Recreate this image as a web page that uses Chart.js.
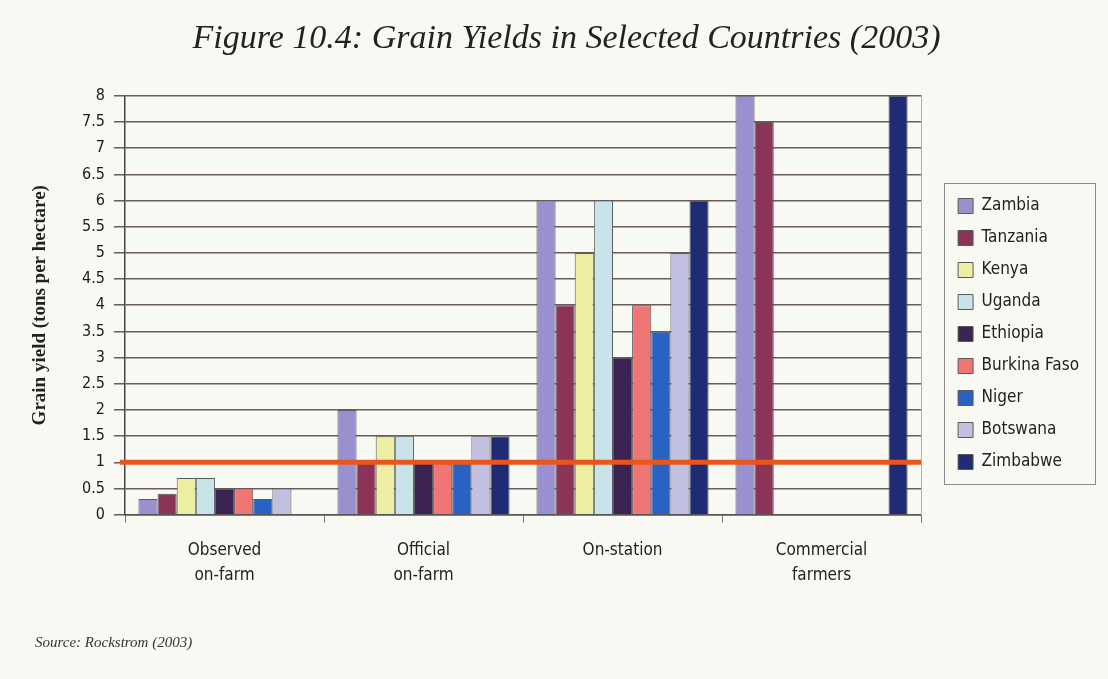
<!DOCTYPE html>
<html>
<head>
<meta charset="utf-8">
<script src="https://cdn.jsdelivr.net/npm/chart.js@4.4.1/dist/chart.umd.min.js"></script>
<style>
    html, body { margin: 0; padding: 0; background: #f9f9f3; }
    #wrap { position: relative; width: 1108px; height: 679px; }
    #source {
        position: absolute; left: 35px; top: 634px;
        font: italic 15px 'Liberation Serif', serif; color: #333;
    }
</style>
</head>
<body>
<div id="wrap">
    <canvas id="grain-chart" width="1108" height="679"></canvas>
    <div id="source">Source: Rockstrom (2003)</div>
</div>
<script>
// data (tons per hectare)
const categories = [['Observed', 'on-farm'], ['Official', 'on-farm'], 'On-station', ['Commercial', 'farmers']];
const countries = ['Zambia', 'Tanzania', 'Kenya', 'Uganda', 'Ethiopia', 'Burkina Faso', 'Niger', 'Botswana', 'Zimbabwe'];

const zambia      = [0.3, 2,   6,   8];
const tanzania    = [0.4, 1,   4,   7.5];
const kenya       = [0.7, 1.5, 5,   null];
const uganda      = [0.7, 1.5, 6,   null];
const ethiopia    = [0.5, 1,   3,   null];
const burkinaFaso = [0.5, 1,   4,   null];
const niger       = [0.3, 1,   3.5, null];
const botswana    = [0.5, 1.5, 5,   null];
const zimbabwe    = [null, 1.5, 6,  8];

const yTicks = [0, 0.5, 1, 1.5, 2, 2.5, 3, 3.5, 4, 4.5, 5, 5.5, 6, 6.5, 7, 7.5, 8];
const THRESHOLD = 1;

const seriesValues = [zambia, tanzania, kenya, uganda, ethiopia, burkinaFaso, niger, botswana, zimbabwe];
const barColors = ['#9a90d0', '#8c3358', '#eeeea2', '#c9e3ea', '#3b2452', '#f07676', '#2a62c4', '#c2c0e0', '#1f2b72'];

const sansFont = "'DejaVu Sans Condensed', 'Liberation Sans Narrow', 'Liberation Sans', sans-serif";

// orange threshold line + legend frame
const decorations = {
    id: 'decorations',
    afterDatasetsDraw(chart) {
        const { ctx, chartArea, scales } = chart;
        const y = scales.y.getPixelForValue(THRESHOLD);
        ctx.save();
        ctx.strokeStyle = '#e8561c';
        ctx.lineWidth = 5;
        ctx.beginPath();
        ctx.moveTo(chartArea.left - 5, y);
        ctx.lineTo(chartArea.right, y);
        ctx.stroke();
        ctx.restore();
    },
    afterDraw(chart) {
        const boxes = chart.legend.legendHitBoxes;
        if (!boxes || !boxes.length) return;
        const left = Math.min(...boxes.map(b => b.left));
        const right = Math.max(...boxes.map(b => b.left + b.width));
        const top = boxes[0].top;
        const bottom = boxes[boxes.length - 1].top + boxes[boxes.length - 1].height;
        const ctx = chart.ctx;
        ctx.save();
        ctx.strokeStyle = '#8a8a8a';
        ctx.lineWidth = 1;
        ctx.strokeRect(Math.round(left - 14) + 0.5, Math.round(top - 15) + 0.5,
            Math.round(right - left + 30), Math.round(bottom - top + 28));
        ctx.restore();
    }
};

const ctx = document.getElementById('grain-chart').getContext('2d');
new Chart(ctx, {
    type: 'bar',
    data: {
        labels: categories,
        datasets: countries.map((name, i) => ({
            label: name,
            data: seriesValues[i],
            backgroundColor: barColors[i],
            borderColor: '#5a5a5a',
            borderWidth: 1,
            categoryPercentage: 0.865,
            barPercentage: 1.0
        }))
    },
    options: {
        responsive: false,
        animation: false,
        layout: { padding: { left: 44, right: 19, top: 0, bottom: 75 } },
        plugins: {
            title: {
                display: true,
                text: 'Figure 10.4: Grain Yields in Selected Countries (2003)',
                color: '#222',
                font: { family: "'Liberation Serif', serif", style: 'italic', weight: 'normal', size: 34 },
                padding: { top: 19, bottom: 36 }
            },
            legend: {
                position: 'right',
                align: 'center',
                title: { display: true, text: ' ', font: { size: 15 }, padding: 23 },
                labels: {
                    boxWidth: 15,
                    boxHeight: 15,
                    padding: 15,
                    color: '#222',
                    font: { family: sansFont, size: 17 }
                }
            },
            tooltip: { enabled: false }
        },
        scales: {
            x: {
                grid: { offset: true, drawOnChartArea: false, tickLength: 8, color: '#777' },
                border: { color: '#555', width: 1.5 },
                ticks: {
                    color: '#222',
                    padding: 16,
                    maxRotation: 0,
                    autoSkip: false,
                    font: { family: sansFont, size: 17, lineHeight: 1.45 }
                }
            },
            y: {
                min: 0,
                max: 8,
                afterBuildTicks: scale => { scale.ticks = yTicks.map(v => ({ value: v })); },
                afterFit: scale => { scale.width = 81; },
                grid: { color: '#6b5b5b', lineWidth: 1.5, tickLength: 11 },
                border: { color: '#444', width: 1.5 },
                ticks: {
                    color: '#1a1a1a',
                    padding: 9,
                    font: { family: sansFont, size: 16 },
                    callback: v => String(v)
                },
                title: {
                    display: true,
                    text: 'Grain yield (tons per hectare)',
                    color: '#222',
                    font: { family: "'Liberation Serif', serif", weight: 'bold', size: 19 },
                    padding: { top: -15, bottom: 10 }
                }
            },
            yr: {
                type: 'linear',
                position: 'right',
                afterFit: scale => { scale.width = 22; },
                grid: { display: false, drawTicks: false },
                ticks: { display: false },
                border: { display: true, color: '#b0b0b0', width: 1 }
            }
        }
    },
    plugins: [decorations]
});
</script>
</body>
</html>
